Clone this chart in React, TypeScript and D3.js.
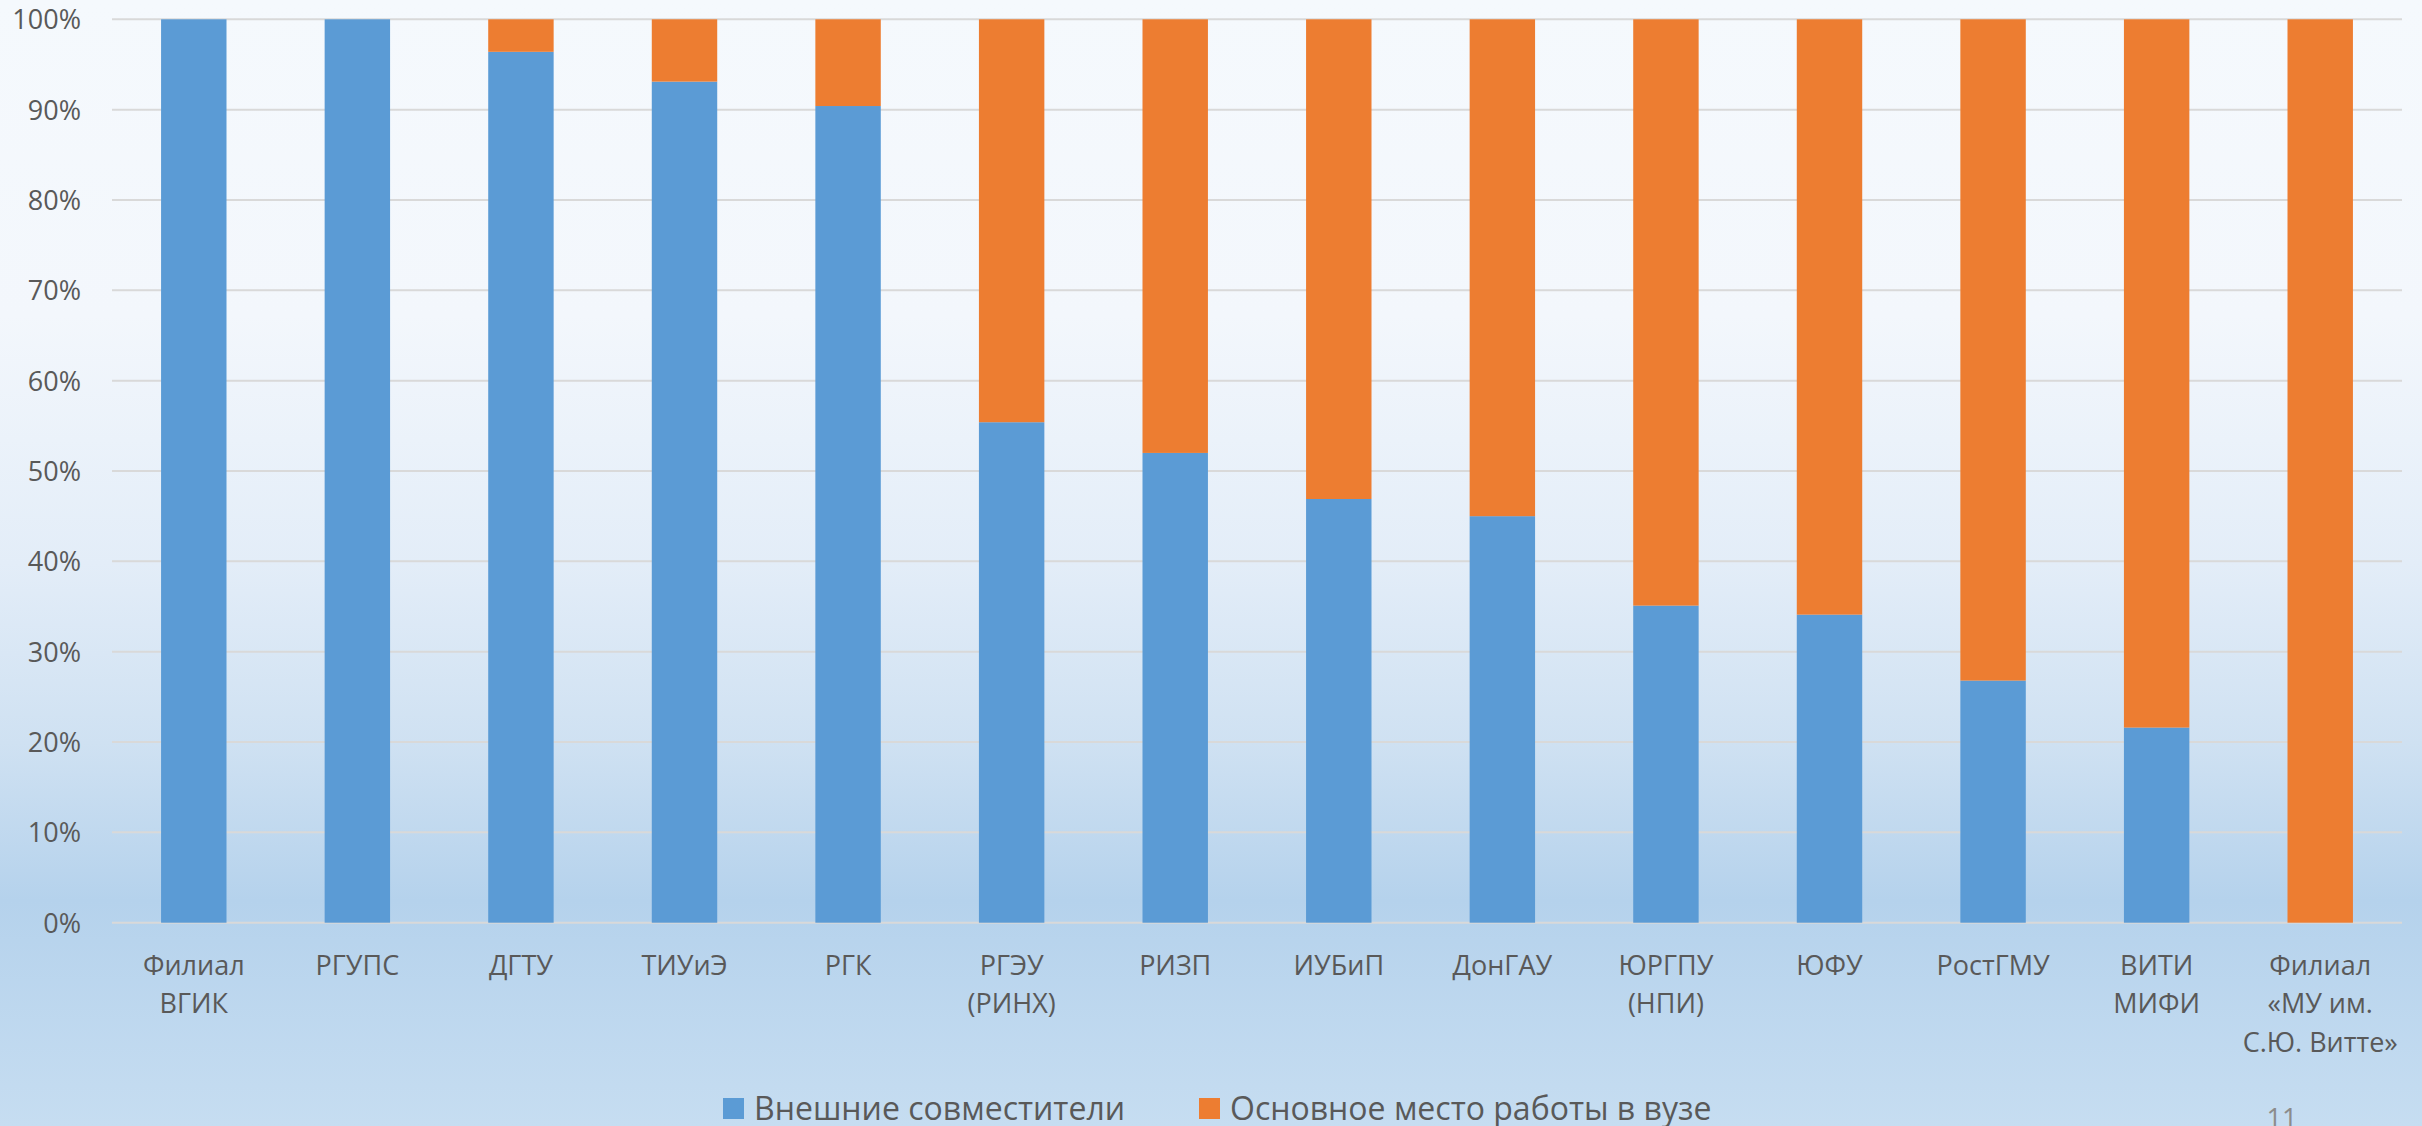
import React, { useEffect, useRef } from 'react';
import * as d3 from 'd3';

const categories = [
    'Филиал\nВГИК',
    'РГУПС',
    'ДГТУ',
    'ТИУиЭ',
    'РГК',
    'РГЭУ\n(РИНХ)',
    'РИЗП',
    'ИУБиП',
    'ДонГАУ',
    'ЮРГПУ\n(НПИ)',
    'ЮФУ',
    'РостГМУ',
    'ВИТИ\nМИФИ',
    'Филиал\n«МУ им.\nС.Ю. Витте»',
];

// shares, percent
const external = [100, 100, 96.4, 93.1, 90.4, 55.4, 52.0, 46.9, 45.0, 35.1, 34.1, 26.8, 21.6, 0];
const mainJob = [0, 0, 3.6, 6.9, 9.6, 44.6, 48.0, 53.1, 55.0, 64.9, 65.9, 73.2, 78.4, 100];

const seriesNames = ['Внешние совместители', 'Основное место работы в вузе'];
const seriesColors = ['#5b9bd5', '#ed7d31'];
const yTicks = [0, 0.1, 0.2, 0.3, 0.4, 0.5, 0.6, 0.7, 0.8, 0.9, 1];

const width = 2422;
const height = 1126;
const font = '"Open Sans", "DejaVu Sans", sans-serif';

export default function App() {
    const marginLeft = 112;
    const marginRight = 20;
    const plotTop = 19.3;
    const plotBottom = 922.7;

    const ref = useRef(null);

    useEffect(() => {
        const svg = d3.select(ref.current);
        svg.selectAll('*').remove();

        // slide background
        const grad = svg.append('defs').append('linearGradient')
            .attr('id', 'bg')
            .attr('x1', 0).attr('y1', 0).attr('x2', 0).attr('y2', 1);
        [
            [0, '#f5f9fd'],
            [0.28, '#f3f7fc'],
            [0.5, '#e3edf8'],
            [0.66, '#cfe1f2'],
            [0.8, '#b5d2ec'],
            [1, '#c6ddf1'],
        ].forEach(([o, c]) => grad.append('stop').attr('offset', o as number).attr('stop-color', c as string));
        svg.append('rect').attr('width', width).attr('height', height).attr('fill', 'url(#bg)');

        const x = d3.scaleBand()
            .domain(categories)
            .range([marginLeft, width - marginRight])
            .paddingInner(0.6)
            .paddingOuter(0.3);
        const y = d3.scaleLinear()
            .domain([0, 1])
            .range([plotBottom, plotTop]);

        // gridlines
        svg.append('g')
            .selectAll('line')
            .data(yTicks)
            .enter()
            .append('line')
              .attr('x1', marginLeft)
              .attr('x2', width - marginRight)
              .attr('y1', d => y(d))
              .attr('y2', d => y(d))
              .attr('stroke', '#d9d9d9')
              .attr('stroke-width', 2);

        // y labels
        svg.append('g')
            .selectAll('text')
            .data(yTicks)
            .enter()
            .append('text')
              .attr('x', 81)
              .attr('y', d => y(d) + 10)
              .attr('text-anchor', 'end')
              .attr('font-family', font)
              .attr('font-size', 27)
              .attr('fill', '#595959')
              .text(d => d3.format('.0%')(d));

        const rows = categories.map((c, i) => ({ cat: c, external: external[i] / 100, mainJob: mainJob[i] / 100 }));
        const stacked = d3.stack<any>().keys(['external', 'mainJob'])(rows);

        stacked.forEach((layer, k) => {
            svg.append('g')
                .selectAll('rect')
                .data(layer)
                .enter()
                .append('rect')
                  .attr('x', d => x(d.data.cat) as number)
                  .attr('width', x.bandwidth())
                  .attr('y', d => y(d[1]))
                  .attr('height', d => y(d[0]) - y(d[1]))
                  .attr('fill', seriesColors[k]);
        });

        // category labels
        const labels = svg.append('g')
            .selectAll('text')
            .data(categories)
            .enter()
            .append('text')
              .attr('text-anchor', 'middle')
              .attr('font-family', font)
              .attr('font-size', 27)
              .attr('fill', '#595959');
        labels.each(function (d) {
            const t = d3.select(this);
            const cx = (x(d) as number) + x.bandwidth() / 2;
            d.split('\n').forEach((line, i) => {
                t.append('tspan')
                    .attr('x', cx)
                    .attr('y', 975 + i * 38.3)
                    .text(line);
            });
        });

        // legend
        const legendX = [723, 1199];
        seriesNames.forEach((name, i) => {
            svg.append('rect')
                .attr('x', legendX[i])
                .attr('y', 1098)
                .attr('width', 21)
                .attr('height', 21)
                .attr('fill', seriesColors[i]);
            svg.append('text')
                .attr('x', legendX[i] + 31)
                .attr('y', 1119.5)
                .attr('font-family', font)
                .attr('font-size', 32)
                .attr('fill', '#595959')
                .text(name);
        });

        // slide number
        svg.append('text')
            .attr('x', 2282)
            .attr('y', 1128)
            .attr('text-anchor', 'middle')
            .attr('font-family', font)
            .attr('font-size', 27)
            .attr('fill', '#8c8c8c')
            .text('11');
    }, []);

    return (
        <svg ref={ref} width={width} height={height} viewBox={`0 0 ${width} ${height}`}
            style={{ position: 'absolute', left: 0, top: 0, display: 'block' }}>
        </svg>
    );
}
